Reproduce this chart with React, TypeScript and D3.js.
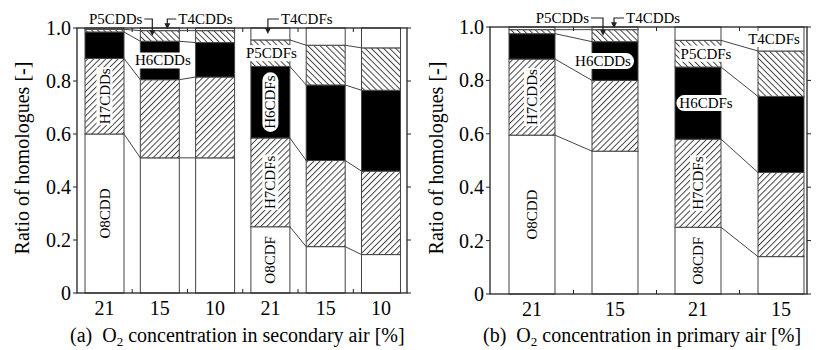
import React, { useEffect, useRef } from "react";
import * as d3 from "d3";

// homologues stacked from bottom to top
const homologueKeys = ["O8", "H7", "H6", "P5", "T4"];

// O2 levels on the x axis
const secondaryO2 = ["21", "15", "10"];
const primaryO2 = ["21", "15"];

// (a) secondary air: share of each homologue, one value per O2 level
const secO8CDD = [0.6, 0.51, 0.51];
const secH7CDD = [0.285, 0.295, 0.305];
const secH6CDD = [0.1, 0.145, 0.13];
const secP5CDD = [0.01, 0.04, 0.045];
const secT4CDD = [0.005, 0.01, 0.01];

const secO8CDF = [0.25, 0.175, 0.145];
const secH7CDF = [0.335, 0.325, 0.315];
const secH6CDF = [0.27, 0.285, 0.305];
const secP5CDF = [0.1, 0.15, 0.16];
const secT4CDF = [0.045, 0.065, 0.075];

// (b) primary air
const priO8CDD = [0.595, 0.535];
const priH7CDD = [0.285, 0.265];
const priH6CDD = [0.095, 0.145];
const priP5CDD = [0.015, 0.045];
const priT4CDD = [0.01, 0.01];

const priO8CDF = [0.25, 0.14];
const priH7CDF = [0.33, 0.315];
const priH6CDF = [0.27, 0.285];
const priP5CDF = [0.1, 0.17];
const priT4CDF = [0.05, 0.09];

const yTicks = [0, 0.2, 0.4, 0.6, 0.8, 1.0];

const FONT = "'Liberation Serif', 'Times New Roman', serif";
const fills = ["#fff", "url(#hatchFwd)", "#000", "url(#hatchBack)", "#fff"];

const panels = [
  {
    levels: secondaryO2,
    groups: [
      [secO8CDD, secH7CDD, secH6CDD, secP5CDD, secT4CDD],
      [secO8CDF, secH7CDF, secH6CDF, secP5CDF, secT4CDF],
    ],
    left: 77, right: 407, top: 28, bottom: 293,
    band: [77, 408.5], padIn: 0.295, padOut: 0.145,
    titleX: 22,
    caption: ["(a)\u00a0\u00a0O", "2", " concentration in secondary air [%]"],
    captionX: 70,
    labels: [
      { text: "H7CDDs", bar: 0, level: 1, rot: true, dx: 0, box: "plain" },
      { text: "O8CDD", bar: 0, level: 0, rot: true, dx: 0, box: "none" },
      { text: "H6CDDs", bar: 1, level: 2, rot: false, dx: 3, box: "round" },
      { text: "P5CDFs", bar: 3, level: 3, rot: false, dx: 1, box: "plain" },
      { text: "H6CDFs", bar: 3, level: 2, rot: true, dx: 0, box: "round" },
      { text: "H7CDFs", bar: 3, level: 1, rot: true, dx: 0, box: "plain" },
      { text: "O8CDF", bar: 3, level: 0, rot: true, dx: 0, box: "none" },
    ],
    arrows: [
      { text: "P5CDDs", bar: 1, level: 3, dx: 12, side: "left", gap: 10 },
      { text: "T4CDDs", bar: 1, level: 4, dx: 27, side: "right", gap: 11 },
      { text: "T4CDFs", bar: 3, level: 4, dx: 17, side: "right", gap: 13 },
    ],
  },
  {
    levels: primaryO2,
    groups: [
      [priO8CDD, priH7CDD, priH6CDD, priP5CDD, priT4CDD],
      [priO8CDF, priH7CDF, priH6CDF, priP5CDF, priT4CDF],
    ],
    left: 490, right: 807, top: 27, bottom: 294,
    band: [490.5, 822.5], padIn: 0.446, padOut: 0.223,
    titleX: 436,
    caption: ["(b)\u00a0\u00a0O", "2", " concentration in primary air [%]"],
    captionX: 483,
    labels: [
      { text: "H7CDDs", bar: 0, level: 1, rot: true, dx: 0, box: "plain" },
      { text: "O8CDD", bar: 0, level: 0, rot: true, dx: 0, box: "none" },
      { text: "H6CDDs", bar: 1, level: 2, rot: false, dx: -12, box: "round" },
      { text: "P5CDFs", bar: 2, level: 3, rot: false, dx: 8, box: "plain" },
      { text: "H6CDFs", bar: 2, level: 2, rot: false, dx: 8, box: "round" },
      { text: "H7CDFs", bar: 2, level: 1, rot: true, dx: 0, box: "plain" },
      { text: "O8CDF", bar: 2, level: 0, rot: true, dx: 0, box: "none" },
      { text: "T4CDFs", bar: 3, level: 4, rot: false, dx: -7, box: "plain" },
    ],
    arrows: [
      { text: "P5CDDs", bar: 1, level: 3, dx: 11, side: "left", gap: 14 },
      { text: "T4CDDs", bar: 1, level: 4, dx: 22, side: "right", gap: 12 },
    ],
  },
];

function drawPanel(svg: any, p: any) {
  const g = svg.append("g");
  const y = d3.scaleLinear().domain([0, 1]).range([p.bottom, p.top]);
  const nPer = p.levels.length;
  const total = p.groups.length * nPer;
  const x = d3.scaleBand<number>()
    .domain(d3.range(total))
    .range(p.band)
    .paddingInner(p.padIn)
    .paddingOuter(p.padOut);
  const bw = x.bandwidth();

  // stack each group, segs[bar][level] = [y0, y1]
  const segs: number[][][] = [];
  p.groups.forEach((layers: number[][]) => {
    const rows = p.levels.map((_: string, i: number) =>
      Object.fromEntries(homologueKeys.map((k, j) => [k, layers[j][i]])));
    const st = d3.stack<any>().keys(homologueKeys)(rows);
    p.levels.forEach((_: string, i: number) => segs.push(st.map(s => [s[i][0], s[i][1]])));
  });

  // lines joining the same boundary between neighbouring bars of a group
  p.groups.forEach((_: any, gi: number) => {
    for (let i = 0; i < nPer - 1; i++) {
      const a = gi * nPer + i, b = a + 1;
      for (let k = 0; k < 4; k++) {
        g.append("line")
          .attr("x1", x(a)! + bw).attr("y1", y(segs[a][k][1]))
          .attr("x2", x(b)!).attr("y2", y(segs[b][k][1]))
          .attr("stroke", "#444").attr("stroke-width", 1);
      }
    }
  });

  // bars
  segs.forEach((bar, bi) => {
    bar.forEach((s, k) => {
      g.append("rect")
        .attr("x", x(bi)!).attr("y", y(s[1]))
        .attr("width", bw).attr("height", y(s[0]) - y(s[1]))
        .attr("fill", fills[k])
        .attr("stroke", "#444").attr("stroke-width", 1);
    });
  });

  // frame
  g.append("rect")
    .attr("x", p.left).attr("y", y(1))
    .attr("width", p.right - p.left).attr("height", y(0) - y(1))
    .attr("fill", "none").attr("stroke", "#222").attr("stroke-width", 1.3);

  // y ticks both sides
  yTicks.forEach(t => {
    g.append("line").attr("x1", p.left - 4).attr("x2", p.left)
      .attr("y1", y(t)).attr("y2", y(t)).attr("stroke", "#222");
    g.append("line").attr("x1", p.right).attr("x2", p.right + 4)
      .attr("y1", y(t)).attr("y2", y(t)).attr("stroke", "#222");
    g.append("text")
      .attr("x", p.left - 6).attr("y", y(t) + 7)
      .attr("text-anchor", "end")
      .style("font-family", FONT).style("font-size", "20px")
      .text(t === 0 ? "0" : t.toFixed(1));
  });

  // minor x ticks between bars
  for (let i = 0; i < total - 1; i++) {
    const mx = (x(i)! + bw + x(i + 1)!) / 2;
    g.append("line").attr("x1", mx).attr("x2", mx)
      .attr("y1", y(0)).attr("y2", y(0) - 4).attr("stroke", "#222");
    g.append("line").attr("x1", mx).attr("x2", mx)
      .attr("y1", y(1)).attr("y2", y(1) + 4).attr("stroke", "#222");
  }

  // x tick labels
  d3.range(total).forEach(i => {
    g.append("text")
      .attr("x", x(i)! + bw / 2).attr("y", p.bottom + 22)
      .attr("text-anchor", "middle")
      .style("font-family", FONT).style("font-size", "20px")
      .text(p.levels[i % nPer]);
  });

  // caption
  const cap = g.append("text")
    .attr("x", p.captionX).attr("y", 342)
    .style("font-family", FONT).style("font-size", "20px");
  cap.append("tspan").text(p.caption[0]);
  cap.append("tspan").attr("dy", 4).style("font-size", "13px").text(p.caption[1]);
  cap.append("tspan").attr("dy", -4).text(p.caption[2]);

  // y title
  g.append("text")
    .attr("transform", `translate(${p.titleX},158) rotate(-90)`)
    .attr("text-anchor", "middle").attr("dominant-baseline", "central")
    .style("font-family", FONT).style("font-size", "20px")
    .text("Ratio of homologues [-]");

  // labels inside the bars
  p.labels.forEach((l: any) => {
    const s = segs[l.bar][l.level];
    const cx = x(l.bar)! + bw / 2 + l.dx;
    const cy = y((s[0] + s[1]) / 2);
    const lg = g.append("g")
      .attr("transform", `translate(${cx},${cy})${l.rot ? " rotate(-90)" : ""}`);
    const t = lg.append("text")
      .attr("text-anchor", "middle").attr("dominant-baseline", "central")
      .style("font-family", FONT).style("font-size", "15px")
      .text(l.text);
    if (l.box !== "none") {
      const bb = (t.node() as SVGTextElement).getBBox();
      const padX = l.box === "round" ? 3 : 1;
      const h = bb.height;
      lg.insert("rect", "text")
        .attr("x", bb.x - padX).attr("y", bb.y)
        .attr("width", bb.width + 2 * padX).attr("height", h)
        .attr("rx", l.box === "round" ? h / 2 : 0)
        .attr("fill", "#fff");
    }
  });

  // arrow call-outs above the frame
  const elbowY = y(1) - 9;
  p.arrows.forEach((a: any) => {
    const s = segs[a.bar][a.level];
    const ex = x(a.bar)! + a.dx;
    const tipY = y((s[0] + s[1]) / 2);
    const tx = a.side === "left" ? ex - a.gap : ex + a.gap;
    const lineStart = a.side === "left" ? tx + 2 : tx - 2;
    g.append("path")
      .attr("d", `M${lineStart},${elbowY}H${ex}V${tipY - 5}`)
      .attr("fill", "none").attr("stroke", "#222").attr("stroke-width", 1.2);
    g.append("path")
      .attr("d", `M${ex - 3},${tipY - 6}L${ex + 3},${tipY - 6}L${ex},${tipY}Z`)
      .attr("fill", "#222");
    g.append("text")
      .attr("x", tx).attr("y", y(1) - 4)
      .attr("text-anchor", a.side === "left" ? "end" : "start")
      .style("font-family", FONT).style("font-size", "15px")
      .text(a.text);
  });
}

const App = () => {
  const chartRef = useRef<SVGSVGElement>(null);

  useEffect(() => {
    if (!chartRef.current) return;
    const svg = d3.select(chartRef.current);
    svg.selectAll("*").remove();

    const defs = svg.append("defs");
    const hatch = (id: string, angle: number) => {
      const pat = defs.append("pattern")
        .attr("id", id)
        .attr("patternUnits", "userSpaceOnUse")
        .attr("width", 4.3).attr("height", 10)
        .attr("patternTransform", `rotate(${angle})`);
      pat.append("rect").attr("width", 4.3).attr("height", 10).attr("fill", "#fff");
      pat.append("line")
        .attr("x1", 0.5).attr("x2", 0.5).attr("y1", 0).attr("y2", 10)
        .attr("stroke", "#333").attr("stroke-width", 0.9);
    };
    hatch("hatchFwd", 45);
    hatch("hatchBack", -45);

    panels.forEach(p => drawPanel(svg, p));
  }, []);

  return (
    <svg
      ref={chartRef}
      width={820}
      height={350}
      style={{ position: "absolute", left: 0, top: 0, background: "#fff" }}
    />
  );
};

export default App;
